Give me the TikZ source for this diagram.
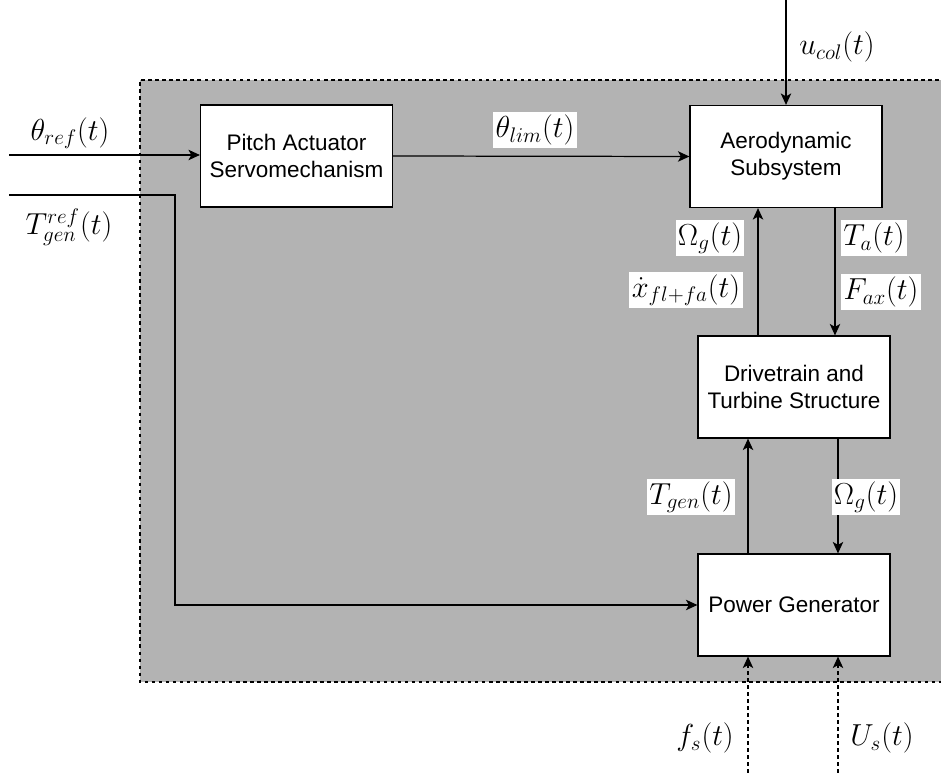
\documentclass[tikz,border=0pt]{standalone}
\usepackage{amsmath}
\usepackage{fontspec}
\setmainfont{Liberation Sans}
\usepackage{xcolor}
\usepackage{tikz}
\usetikzlibrary{arrows.meta, positioning}

\definecolor{plantgray}{HTML}{B3B3B3}
\tikzset{
	block/.style={draw, fill=white, line width=0.7pt, minimum width=3.84cm, minimum height=2.04cm, align=center, font=\fontsize{12.8}{15.5}\selectfont},
	sig/.style={line width=0.7pt, -{Stealth[length=2.3mm, width=2.1mm, inset=0.6mm]}},
	dsig/.style={sig, dash pattern=on 2pt off 2pt},
	lbl/.style={inner sep=1.4pt, font=\fontsize{18.5}{22}\selectfont},
	wlbl/.style={lbl, fill=white}
}

\begin{document}
\begin{tikzpicture}[x=0.02cm, y=-0.02cm]
			\useasboundingbox (0, 0) rectangle (941, 773);
			% Plant region:
			\fill[plantgray] (140, 80) rectangle (960, 682);
			\draw[line width=0.6pt, dash pattern=on 2pt off 2pt] (960, 80) -- (140, 80) -- (140, 682) -- (960, 682);
			% Blocks:
			\node[block](pitch) at (296.5, 156){Pitch Actuator\\Servomechanism};
			\node[block](aero) at (786, 156.5){Aerodynamic\\Subsystem};
			\node[block](drive) at (794, 387){Drivetrain and\\Turbine Structure};
			\node[block](power) at (794, 605){Power Generator};
			% Free ends:
			\coordinate (thref) at (9, 155);
			\coordinate (tgref) at (9, 195);
			\coordinate (tgcorner) at (175, 195);
			\coordinate (ucol) at (786, 0);
			\coordinate (fs) at (748, 773);
			\coordinate (us) at (838, 773);
			% Signals:
			\draw[sig] (thref) -- (pitch.west |- thref);
			\draw[sig] (pitch.east) -- (aero.west);
			\draw[sig] (ucol) -- (aero.north);
			\draw[sig] (tgref) -- (tgcorner) |- (power.west);
			\draw[sig] ([xshift=-0.72cm]drive.north) -- ([xshift=-0.72cm]drive.north |- aero.south);
			\draw[sig] ([xshift=0.98cm]aero.south) -- ([xshift=0.98cm]aero.south |- drive.north);
			\draw[sig] ([xshift=-0.92cm]power.north) -- ([xshift=-0.92cm]power.north |- drive.south);
			\draw[sig] ([xshift=0.88cm]drive.south) -- ([xshift=0.88cm]drive.south |- power.north);
			\draw[dsig] (fs) -- (fs |- power.south);
			\draw[dsig] (us) -- (us |- power.south);
			% Labels:
			\node[lbl](lthref) at (70, 133){$\theta_{ref}(t)$};
			\node[lbl](ltgref) at (69, 227){$T_{gen}^{ref}(t)$};
			\node[lbl](lucol) at (837, 47){$u_{col}(t)$};
			\node[wlbl](lthlim) at (535, 130){$\theta_{lim}(t)$};
			\node[wlbl](lomup) at (710, 238){$\Omega_g(t)$};
			\node[wlbl](lxdot) at (686, 290){$\dot{x}_{fl+fa}(t)$};
			\node[wlbl](lta) at (874, 238){$T_a(t)$};
			\node[wlbl](lfax) at (881, 292){$F_{ax}(t)$};
			\node[wlbl](ltgen) at (691, 497){$T_{gen}(t)$};
			\node[wlbl](lomdn) at (866, 497){$\Omega_g(t)$};
			\node[lbl](lfs) at (705, 738){$f_s(t)$};
			\node[lbl](lus) at (882, 738){$U_s(t)$};
		\end{tikzpicture}
\end{document}
